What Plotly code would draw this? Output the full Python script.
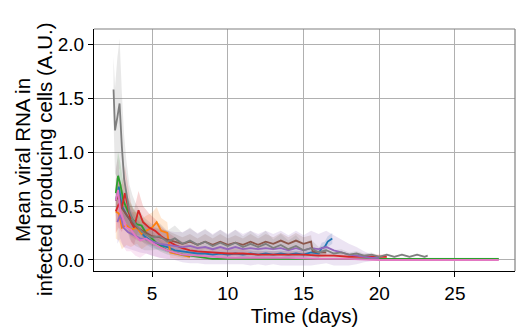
import plotly.graph_objects as go

colors = {
    "blue": "#1f77b4", "orange": "#ff7f0e", "green": "#2ca02c", "red": "#d62728",
    "purple": "#9467bd", "brown": "#8c564b", "pink": "#e377c2", "gray": "#7f7f7f",
}

# ---- data (days, mean, sd) ----
gray_t = [2.45, 2.55, 2.7, 2.85, 3.0, 3.15, 3.3, 3.5, 3.7, 3.9, 4.2, 4.5, 5.0, 5.5, 6.0, 6.5, 7.0, 7.5, 8.0,
          8.5, 9.0, 9.5, 10.0, 10.5, 11.0, 11.5, 12.0, 12.5, 13.0, 13.5, 14.0, 14.5, 15.0, 15.5, 16.0, 16.5,
          17.0, 17.5, 18.0, 18.5, 19.0, 19.5, 20.0, 20.5, 21.0, 21.5, 22.0, 22.5, 23.0, 23.2]
gray_y = [1.58, 1.2, 1.32, 1.45, 1.05, 0.75, 0.62, 0.45, 0.38, 0.33, 0.28, 0.24, 0.21, 0.22, 0.17, 0.2, 0.15,
          0.18, 0.14, 0.17, 0.13, 0.16, 0.13, 0.16, 0.12, 0.15, 0.12, 0.15, 0.11, 0.14, 0.1, 0.13, 0.09,
          0.11, 0.07, 0.09, 0.06, 0.07, 0.05, 0.06, 0.04, 0.05, 0.03, 0.05, 0.03, 0.05, 0.03, 0.05, 0.03, 0.04]
gray_sd = [0.3, 0.4, 0.55, 0.6, 0.5, 0.4, 0.3, 0.25, 0.22, 0.2, 0.17, 0.15, 0.12, 0.12, 0.1, 0.12, 0.1,
           0.12, 0.1, 0.12, 0.1, 0.12, 0.1, 0.12, 0.1, 0.12, 0.1, 0.12, 0.08, 0.1, 0.08, 0.1, 0.06,
           0.08, 0.05, 0.05, 0.03, 0.03, 0.02, 0.02, 0.02, 0.02, 0.01, 0.01, 0.01, 0.01, 0.01, 0.01, 0.01, 0.01]

brown_t = [2.6, 2.8, 3.0, 3.3, 3.6, 4.0, 4.5, 5.0, 5.5, 6.0, 6.5, 7.0, 7.5, 8.0, 8.5, 9.0, 9.5, 10.0, 10.5,
           11.0, 11.5, 12.0, 12.5, 13.0, 13.5, 14.0, 14.5, 15.0, 15.5, 15.6, 16.0, 16.5]
brown_y = [0.55, 0.6, 0.48, 0.42, 0.36, 0.3, 0.26, 0.22, 0.21, 0.19, 0.17, 0.15, 0.17, 0.14, 0.17, 0.14,
           0.17, 0.14, 0.16, 0.14, 0.17, 0.14, 0.17, 0.15, 0.18, 0.15, 0.18, 0.15, 0.17, 0.08, 0.07, 0.07]
brown_sd = [0.2, 0.2, 0.18, 0.16, 0.14, 0.12, 0.1, 0.09, 0.08, 0.08, 0.07, 0.06, 0.07, 0.06, 0.07, 0.06,
            0.07, 0.06, 0.07, 0.06, 0.07, 0.06, 0.07, 0.06, 0.07, 0.06, 0.07, 0.06, 0.06, 0.04, 0.03, 0.03]

purple_t = [2.7, 2.9, 3.1, 3.4, 3.8, 4.2, 4.6, 5.0, 5.5, 6.0, 6.5, 7.0, 7.5, 8.0, 8.5, 9.0, 9.5, 10.0, 10.5,
            11.0, 11.5, 12.0, 12.5, 13.0, 13.5, 14.0, 14.5, 15.0, 15.5, 16.0, 16.5, 17.0, 17.5, 18.0,
            18.5, 19.0, 19.5, 20.0]
purple_y = [0.35, 0.42, 0.3, 0.26, 0.23, 0.2, 0.19, 0.17, 0.15, 0.14, 0.13, 0.12, 0.13, 0.11, 0.12, 0.1,
            0.12, 0.1, 0.12, 0.1, 0.11, 0.1, 0.11, 0.1, 0.11, 0.09, 0.11, 0.09, 0.11, 0.1, 0.12, 0.09,
            0.07, 0.05, 0.04, 0.03, 0.02, 0.02]
purple_sd = [0.2, 0.22, 0.18, 0.15, 0.14, 0.13, 0.13, 0.13, 0.13, 0.13, 0.13, 0.14, 0.16, 0.14, 0.16,
             0.14, 0.16, 0.14, 0.16, 0.14, 0.16, 0.14, 0.16, 0.14, 0.16, 0.14, 0.16, 0.14, 0.16, 0.14,
             0.15, 0.14, 0.12, 0.1, 0.08, 0.05, 0.03, 0.02]

blue_t = [2.6, 2.8, 3.0, 3.3, 3.6, 4.0, 4.5, 5.0, 5.5, 6.0, 6.5, 7.0, 7.5, 8.0, 8.5, 9.0, 9.5, 10.0, 10.5,
          11.0, 11.5, 12.0, 12.5, 13.0, 13.5, 14.0, 14.5, 15.0, 15.5, 16.0, 16.2, 16.4, 16.6, 16.9]
blue_y = [0.55, 0.68, 0.5, 0.42, 0.36, 0.3, 0.22, 0.17, 0.14, 0.12, 0.09, 0.08, 0.07, 0.06, 0.06, 0.05,
          0.06, 0.05, 0.06, 0.05, 0.06, 0.05, 0.06, 0.05, 0.06, 0.05, 0.06, 0.05, 0.07, 0.06, 0.11, 0.12,
          0.17, 0.2]
blue_sd = [0.15, 0.15, 0.13, 0.12, 0.1, 0.08, 0.07, 0.06, 0.05, 0.05, 0.04, 0.04, 0.03, 0.03, 0.03,
           0.03, 0.03, 0.03, 0.03, 0.03, 0.03, 0.03, 0.03, 0.03, 0.03, 0.03, 0.03, 0.03, 0.04, 0.04,
           0.05, 0.05, 0.05, 0.05]

red_t = [2.6, 2.8, 3.0, 3.2, 3.4, 3.6, 3.8, 4.1, 4.4, 4.8, 5.2, 5.6, 6.0, 6.5, 7.0, 7.5, 8.0, 9.0, 10.0,
         11.0, 12.0, 13.0, 14.0, 15.0, 16.0, 17.0, 18.0, 19.0, 20.0, 20.5]
red_y = [0.45, 0.52, 0.48, 0.62, 0.5, 0.35, 0.3, 0.46, 0.35, 0.3, 0.27, 0.22, 0.18, 0.14, 0.11, 0.09,
         0.08, 0.07, 0.06, 0.06, 0.05, 0.05, 0.05, 0.05, 0.04, 0.04, 0.03, 0.03, 0.03, 0.03]
red_sd = [0.2, 0.22, 0.22, 0.25, 0.2, 0.18, 0.16, 0.18, 0.15, 0.13, 0.11, 0.09, 0.08, 0.07, 0.06, 0.05,
          0.05, 0.04, 0.04, 0.04, 0.03, 0.03, 0.03, 0.03, 0.02, 0.02, 0.02, 0.02, 0.02, 0.02]

green_t = [2.6, 2.75, 2.9, 3.1, 3.4, 3.7, 4.0, 4.3, 4.6, 5.0, 5.5, 6.0, 6.5, 7.0, 7.5, 8.0, 8.5, 9.0,
           10.0, 12.0, 14.0, 16.0, 18.0, 20.0, 22.0, 24.0, 26.0, 27.9]
green_y = [0.62, 0.78, 0.7, 0.55, 0.45, 0.38, 0.33, 0.32, 0.25, 0.2, 0.13, 0.09, 0.07, 0.05, 0.04, 0.03,
           0.02, 0.01, 0.01, 0.01, 0.01, 0.01, 0.01, 0.01, 0.01, 0.01, 0.01, 0.01]
green_sd = [0.2, 0.22, 0.2, 0.16, 0.13, 0.11, 0.1, 0.09, 0.08, 0.07, 0.05, 0.04, 0.03, 0.03, 0.02, 0.02,
            0.01, 0.01, 0.01, 0.01, 0.01, 0.01, 0.01, 0.01, 0.01, 0.01, 0.01, 0.01]

orange_t = [2.6, 2.8, 3.0, 3.3, 3.6, 4.0, 4.3, 4.6, 5.0, 5.3, 5.6, 6.0, 6.2, 6.5, 7.0, 7.5]
orange_y = [0.45, 0.43, 0.3, 0.32, 0.28, 0.3, 0.24, 0.27, 0.3, 0.35, 0.27, 0.25, 0.07, 0.06, 0.04, 0.03]
orange_sd = [0.25, 0.25, 0.2, 0.18, 0.16, 0.15, 0.14, 0.14, 0.14, 0.14, 0.12, 0.1, 0.05, 0.04, 0.03, 0.02]

pink_t = [2.6, 2.75, 2.9, 3.1, 3.3, 3.6, 3.9, 4.2, 4.6, 5.0, 5.5, 6.0, 6.5, 7.0, 8.0, 9.0, 10.0, 12.0,
          14.0, 16.0, 18.0, 20.0, 22.0, 24.0, 26.0, 27.9]
pink_y = [0.55, 0.65, 0.45, 0.38, 0.3, 0.28, 0.22, 0.18, 0.2, 0.16, 0.12, 0.09, 0.07, 0.05, 0.04, 0.03,
          0.02, 0.02, 0.02, 0.01, 0.01, 0.0, 0.0, 0.0, 0.0, 0.0]
pink_sd = [0.3, 0.3, 0.28, 0.25, 0.22, 0.2, 0.18, 0.16, 0.14, 0.12, 0.1, 0.08, 0.06, 0.05, 0.04, 0.03,
           0.02, 0.02, 0.02, 0.01, 0.01, 0.01, 0.01, 0.01, 0.01, 0.01]

series = [
    ("blue", blue_t, blue_y, blue_sd),
    ("orange", orange_t, orange_y, orange_sd),
    ("green", green_t, green_y, green_sd),
    ("red", red_t, red_y, red_sd),
    ("purple", purple_t, purple_y, purple_sd),
    ("brown", brown_t, brown_y, brown_sd),
    ("pink", pink_t, pink_y, pink_sd),
    ("gray", gray_t, gray_y, gray_sd),
]

x_ticks = [5, 10, 15, 20, 25]
y_ticks = [0.0, 0.5, 1.0, 1.5, 2.0]
y_title_lines = ["Mean viral RNA in", "infected producing cells (A.U.)"]


def rgba(hexc, a):
    h = hexc.lstrip("#")
    return "rgba(%d,%d,%d,%.2f)" % (int(h[0:2], 16), int(h[2:4], 16), int(h[4:6], 16), a)


fig = go.Figure()
for name, t, y, sd in series:
    c = colors[name]
    upper = [m + s for m, s in zip(y, sd)]
    lower = [m - s for m, s in zip(y, sd)]
    fig.add_trace(go.Scatter(x=t + t[::-1], y=upper + lower[::-1], fill="toself",
                             fillcolor=rgba(c, 0.18), line=dict(width=0), mode="lines",
                             hoverinfo="skip", showlegend=False))
for name, t, y, sd in series:
    fig.add_trace(go.Scatter(x=t, y=y, mode="lines", line=dict(color=colors[name], width=1.8),
                             showlegend=False, name=name))

font = "Liberation Sans, Arial, sans-serif"
tick_fs = 19
title_fs = 20.5
L, R, T, B = 94, 1, 29, 57
W, H = 516, 328
pw = W - L - R
ph = H - T - B

annotations = []
for line_text, cx in zip(y_title_lines, [22, 44]):
    annotations.append(dict(text=line_text, xref="paper", yref="paper",
                            x=(cx - L) / pw, y=(H - B - 160) / ph,
                            xanchor="center", yanchor="middle", textangle=-90,
                            showarrow=False, font=dict(size=title_fs, family=font, color="black")))

fig.update_layout(
    width=W, height=H,
    margin=dict(l=L, r=R, t=T, b=B),
    plot_bgcolor="white", paper_bgcolor="white",
    font=dict(family=font, size=tick_fs, color="black"),
    xaxis=dict(range=[1.16, 28.97], tickvals=x_ticks, ticks="outside", ticklen=5,
               tickcolor="black", showgrid=True, gridcolor="#b0b0b0", gridwidth=1,
               showline=True, linecolor="black", linewidth=1.2, zeroline=False,
               title=dict(text="Time (days)", standoff=0, font=dict(size=title_fs)),
               tickfont=dict(size=tick_fs)),
    yaxis=dict(range=[-0.102, 2.14], tickvals=y_ticks, ticktext=["0.0", "0.5", "1.0", "1.5", "2.0"],
               ticks="outside", ticklen=5, tickcolor="black", showgrid=True, gridcolor="#b0b0b0",
               gridwidth=1, showline=True, linecolor="black", linewidth=1.2, zeroline=False,
               tickfont=dict(size=tick_fs)),
    annotations=annotations,
    shapes=[
        dict(type="line", xref="paper", yref="paper", x0=0, x1=1, y0=1, y1=1,
             line=dict(color="#808080", width=1.2)),
        dict(type="line", xref="paper", yref="paper", x0=1, x1=1, y0=0, y1=1,
             line=dict(color="#808080", width=1.2)),
    ],
)
fig.write_html("out.html")
